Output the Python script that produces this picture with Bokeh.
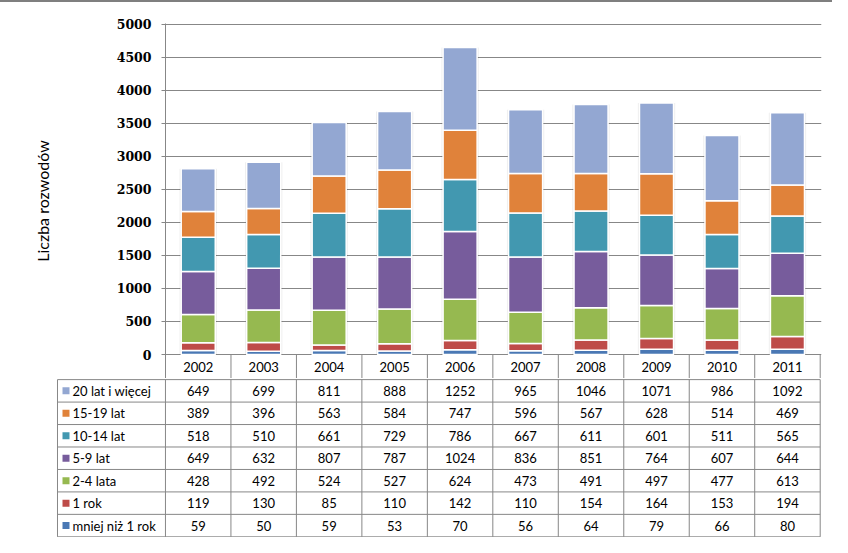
from bokeh.plotting import figure
from bokeh.models import ColumnDataSource, Range1d, FixedTicker, Div
from bokeh.layouts import column
from bokeh.embed import file_html
from bokeh.resources import INLINE
from bokeh.core.properties import value

# ---------------- data ----------------
years = ["2002", "2003", "2004", "2005", "2006", "2007", "2008", "2009", "2010", "2011"]
series_names = ["mniej niż 1 rok", "1 rok", "2-4 lata", "5-9 lat", "10-14 lat", "15-19 lat", "20 lat i więcej"]
s_lt1 = [59, 50, 59, 53, 70, 56, 64, 79, 66, 80]
s_1 = [119, 130, 85, 110, 142, 110, 154, 164, 153, 194]
s_2_4 = [428, 492, 524, 527, 624, 473, 491, 497, 477, 613]
s_5_9 = [649, 632, 807, 787, 1024, 836, 851, 764, 607, 644]
s_10_14 = [518, 510, 661, 729, 786, 667, 611, 601, 511, 565]
s_15_19 = [389, 396, 563, 584, 747, 596, 567, 628, 514, 469]
s_20 = [649, 699, 811, 888, 1252, 965, 1046, 1071, 986, 1092]
y_ticks = [0, 500, 1000, 1500, 2000, 2500, 3000, 3500, 4000, 4500, 5000]
colors = ["#4A78B4", "#BE4B48", "#96B950", "#775C9C", "#4298B0", "#E0823A", "#93A7D2"]

series = [s_lt1, s_1, s_2_4, s_5_9, s_10_14, s_15_19, s_20]
keys = ["k%d" % i for i in range(len(series))]
n = len(years)

# ---------------- layout constants ----------------
BORDER = 2
W = 832
H = 537 - BORDER
COLW = 65.5
FRAME_L = 165
X_END = n + 0.02
FRAME_R_PX = FRAME_L + round(X_END * COLW)
GRID = "#878787"
TXT_FONT = "Lato"
TOP_PAD = 23 - BORDER  # px above frame
CHART_PX = 331         # px from y=5008 down to y=0
HEADER_PX = 24         # header row height (inside the chart figure)
Y_TOP = 5008
per_px = Y_TOP / CHART_PX
Y_BOTTOM = -HEADER_PX * per_px

# ---------------- chart (with year header row) ----------------
data = {"xc": [i + 0.5 for i in range(n)], "total": [sum(v) for v in zip(*series)]}
for k, s in zip(keys, series):
    data[k] = s
src = ColumnDataSource(data)

p = figure(width=W, height=TOP_PAD + CHART_PX + HEADER_PX,
           x_range=Range1d(0, X_END), y_range=Range1d(Y_BOTTOM, Y_TOP),
           output_backend="svg", toolbar_location=None, x_axis_location=None,
           min_border_left=FRAME_L, min_border_right=W - FRAME_R_PX,
           min_border_top=TOP_PAD, min_border_bottom=0, outline_line_color=None,
           background_fill_color="white", border_fill_color="white",
           frame_align=False)

p.xgrid.grid_line_color = None
p.ygrid.grid_line_color = GRID
p.ygrid.grid_line_width = 1
p.ygrid.ticker = FixedTicker(ticks=y_ticks)

ax = p.yaxis[0]
ax.ticker = FixedTicker(ticks=y_ticks)
ax.axis_line_color = GRID
ax.major_tick_line_color = GRID
ax.major_tick_in = 0
ax.major_tick_out = 4
ax.minor_tick_line_color = None
ax.major_label_text_font = "DejaVu Serif"
ax.major_label_text_font_size = "12.5px"
ax.major_label_text_font_style = "bold"
ax.major_label_text_color = "#000000"
ax.major_label_standoff = 10
ax.axis_label = "Liczba rozwodów"
ax.axis_label_text_font = TXT_FONT
ax.axis_label_text_font_size = "16px"
ax.axis_label_text_font_style = "normal"
ax.axis_label_text_color = "#000000"
ax.axis_label_standoff = 62

# faint shadow behind bars
p.vbar(x="xc", top="total", width=0.57, source=src, fill_color="#000000",
       fill_alpha=0.07, line_color=None)
p.vbar_stack(keys, x="xc", width=0.52, color=colors, line_color="white",
             line_width=1.5, source=src)

# header row: column separators and year labels
hdr_x = list(range(1, n + 1))
p.segment(x0=hdr_x, y0=[0] * n, x1=hdr_x, y1=[Y_BOTTOM] * n, line_color=GRID, line_width=1)
p.text(x=[i + 0.5 for i in range(n)], y=[Y_BOTTOM / 2] * n, text=years,
       text_align="center", text_baseline="middle", text_font=value(TXT_FONT),
       text_font_size="13px", text_color="#000000")

# ---------------- table ----------------
TABLE_FRAME_L = 56
legend_left = -(165 - 57) / COLW
nrows = len(series_names)
t = figure(width=W, height=H - (TOP_PAD + CHART_PX + HEADER_PX),
           x_range=Range1d(-(FRAME_L - TABLE_FRAME_L) / COLW, X_END),
           y_range=Range1d(-0.03, nrows + 0.05),
           output_backend="svg", toolbar_location=None,
           x_axis_location=None, y_axis_location=None,
           min_border_left=TABLE_FRAME_L, min_border_right=W - FRAME_R_PX,
           min_border_top=0, min_border_bottom=0, outline_line_color=None,
           background_fill_color="white", border_fill_color="white",
           frame_align=False)
t.grid.visible = False

# horizontal lines
hy = [nrows - j for j in range(nrows + 1)]
t.segment(x0=[legend_left] * len(hy), y0=hy, x1=[n] * len(hy), y1=hy, line_color=GRID, line_width=1)
# vertical lines
vx = [legend_left] + list(range(n + 1))
t.segment(x0=vx, y0=[0] * len(vx), x1=vx, y1=[nrows] * len(vx), line_color=GRID, line_width=1)

# rows: top row is last series
for r in range(nrows):
    si = nrows - 1 - r
    yc = nrows - 0.5 - r
    t.text(x=[i + 0.5 for i in range(n)], y=[yc] * n, text=[str(v) for v in series[si]],
           text_align="center", text_baseline="middle", text_font=value(TXT_FONT),
           text_font_size="13px", text_color="#000000")
    t.rect(x=[legend_left + 8.5 / COLW], y=[yc], width=7, height=7,
           width_units="screen", height_units="screen",
           fill_color=colors[si], line_color=None)
    t.text(x=[legend_left + 15 / COLW], y=[yc], text=[series_names[si]],
           text_align="left", text_baseline="middle", text_font=value(TXT_FONT),
           text_font_size="13px", text_color="#000000")

top_border = Div(text="", width=W, height=BORDER, margin=0,
                 styles={"background-color": "#7F7F7F"})
layout = column(top_border, p, t, spacing=0)
open("out.html", "w").write(file_html(layout, INLINE))
